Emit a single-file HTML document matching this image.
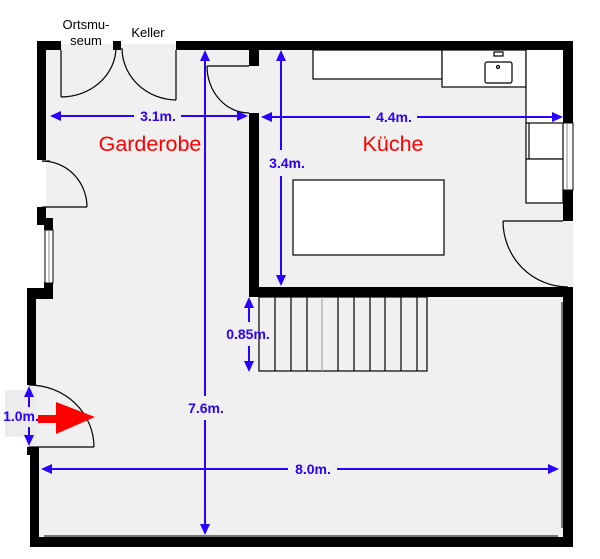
<!DOCTYPE html>
<html><head><style>body{margin:0;background:#fff}svg{display:block}</style></head><body>
<svg width="600" height="559" viewBox="0 0 600 559" xmlns="http://www.w3.org/2000/svg" font-family="Liberation Sans, sans-serif">
<polygon points="37,41 573,41 573,547 31,547 31,455 27,455 27,288 46,288 46,41" fill="#f0f0f0"/>
<rect x="5" y="390" width="32" height="47" fill="#ececec"/>
<rect x="61" y="0" width="115" height="44" fill="#fff"/>
<g fill="#000">
<rect x="37" y="41" width="24" height="9"/>
<rect x="37" y="41" width="9" height="119"/>
<rect x="113" y="41" width="8" height="9"/>
<rect x="176" y="41" width="397" height="9"/>
<rect x="249" y="41" width="10" height="25"/>
<rect x="249" y="113" width="10" height="184"/>
<rect x="249" y="287" width="324" height="10"/>
<rect x="563" y="41" width="10" height="82"/>
<rect x="563" y="190" width="10" height="31"/>
<rect x="563" y="287" width="10" height="260"/>
<rect x="31" y="537" width="542" height="10"/>
<rect x="37" y="207" width="9" height="18"/>
<rect x="44" y="218" width="9" height="12"/>
<rect x="44" y="282" width="9" height="17"/>
<rect x="27" y="288" width="19" height="11"/>
<rect x="27" y="288" width="9" height="97"/>
<rect x="27" y="447" width="9" height="8"/>
<rect x="30" y="447" width="9" height="100"/>
</g>
<rect x="45" y="230" width="8" height="53" fill="#fff" stroke="#000" stroke-width="1"/>
<line x1="49" y1="230" x2="49" y2="283" stroke="#888"/>
<rect x="563" y="123" width="10" height="67" fill="#fff" stroke="#000" stroke-width="1"/>
<line x1="567" y1="123" x2="567" y2="190" stroke="#888"/>
<g stroke="#000" stroke-width="1.2" fill="none">
<line x1="61" y1="50" x2="61" y2="97"/>
<line x1="176" y1="50" x2="176" y2="100"/>
<path d="M61,97 A55,50 0 0 0 116,48"/>
<path d="M122,48 A55,52 0 0 0 176,100"/>
<line x1="207" y1="66" x2="249" y2="66"/>
<path d="M207,66 A42,47 0 0 0 249,113"/>
<line x1="42" y1="161" x2="50" y2="161"/>
<path d="M42,161 A45,46 0 0 1 87,207"/>
<line x1="42" y1="207" x2="87" y2="207"/>
<path d="M29,385 A65,62 0 0 1 94,447"/>
<line x1="29" y1="447" x2="94" y2="447"/>
<line x1="503" y1="221" x2="563" y2="221"/>
<path d="M503,221 A65,66 0 0 0 568,287"/>
<rect x="313" y="50" width="129" height="29" fill="#fff"/>
<rect x="442" y="50" width="84" height="37" fill="#fff"/>
<rect x="485" y="62" width="27" height="21" rx="2" fill="#fff"/>
<rect x="494" y="52" width="9" height="4" fill="#fff"/>
<circle cx="498" cy="67" r="1.5"/>
<rect x="526" y="50" width="37" height="73" fill="#fff" stroke="none"/>
<line x1="526" y1="50" x2="526" y2="123"/>
<rect x="526" y="123" width="37" height="36" fill="#fff"/>
<line x1="529" y1="123" x2="529" y2="159"/>
<rect x="526" y="159" width="37" height="44" fill="#fff"/>
<rect x="293" y="180" width="151" height="75" fill="#fff"/>
<rect x="259" y="297" width="168" height="74"/>
<line x1="275" y1="297" x2="275" y2="371"/><line x1="291" y1="297" x2="291" y2="371"/>
<line x1="307" y1="297" x2="307" y2="371"/><line x1="322" y1="297" x2="322" y2="371" stroke="#aaa"/>
<line x1="338" y1="297" x2="338" y2="371"/><line x1="354" y1="297" x2="354" y2="371"/>
<line x1="370" y1="297" x2="370" y2="371"/><line x1="385" y1="297" x2="385" y2="371"/>
<line x1="401" y1="297" x2="401" y2="371"/><line x1="417" y1="297" x2="417" y2="371"/>
<line x1="44" y1="536" x2="558" y2="536" stroke-width="1"/>
<line x1="562" y1="302" x2="562" y2="528" stroke-width="1"/>
</g>
<g stroke="#2a00ff" stroke-width="2" fill="#2a00ff">
<line x1="58" y1="116" x2="134" y2="116"/><line x1="181" y1="116" x2="240" y2="116"/>
<polygon points="50,116 61,111 61,121" stroke="none"/><polygon points="248,116 237,111 237,121" stroke="none"/>
<line x1="270" y1="117" x2="370" y2="117"/><line x1="417" y1="117" x2="555" y2="117"/>
<polygon points="261,117 272,112 272,122" stroke="none"/><polygon points="563,117 552,112 552,122" stroke="none"/>
<line x1="281" y1="58" x2="281" y2="150"/><line x1="281" y1="176" x2="281" y2="278"/>
<polygon points="281,50 276,61 286,61" stroke="none"/><polygon points="281,286 276,275 286,275" stroke="none"/>
<line x1="205" y1="58" x2="205" y2="396"/><line x1="205" y1="420" x2="205" y2="527"/>
<polygon points="205,50 200,61 210,61" stroke="none"/><polygon points="205,535 200,524 210,524" stroke="none"/>
<line x1="49" y1="469" x2="288" y2="469"/><line x1="337" y1="469" x2="551" y2="469"/>
<polygon points="41,469 52,464 52,474" stroke="none"/><polygon points="559,469 548,464 548,474" stroke="none"/>
<line x1="249" y1="305" x2="249" y2="322"/><line x1="249" y1="346" x2="249" y2="364"/>
<polygon points="249,297 244,308 254,308" stroke="none"/><polygon points="249,372 244,361 254,361" stroke="none"/>
<line x1="29" y1="394" x2="29" y2="407"/><line x1="29" y1="427" x2="29" y2="438"/>
<polygon points="29,386 24,397 34,397" stroke="none"/><polygon points="29,446 24,435 34,435" stroke="none"/>
</g>
<g fill="#2a00ff" font-weight="bold" font-size="14" text-anchor="middle">
<text x="158" y="121">3.1m.</text>
<text x="394" y="122">4.4m.</text>
<text x="287" y="168">3.4m.</text>
<text x="206" y="413">7.6m.</text>
<text x="313" y="474">8.0m.</text>
<text x="248" y="339">0.85m.</text>
<text x="21" y="421">1.0m.</text>
</g>
<rect x="38" y="415" width="20" height="8" fill="#f00"/>
<polygon points="56,402 95,417 56,434" fill="#f00"/>
<g font-size="21.5" fill="#f00" text-anchor="middle">
<text x="150" y="151">Garderobe</text>
<text x="393" y="151">Küche</text>
</g>
<g font-size="13" fill="#000" text-anchor="middle">
<text x="86" y="29">Ortsmu-</text>
<text x="86" y="45">seum</text>
<text x="148" y="37">Keller</text>
</g>
</svg>
</body></html>
